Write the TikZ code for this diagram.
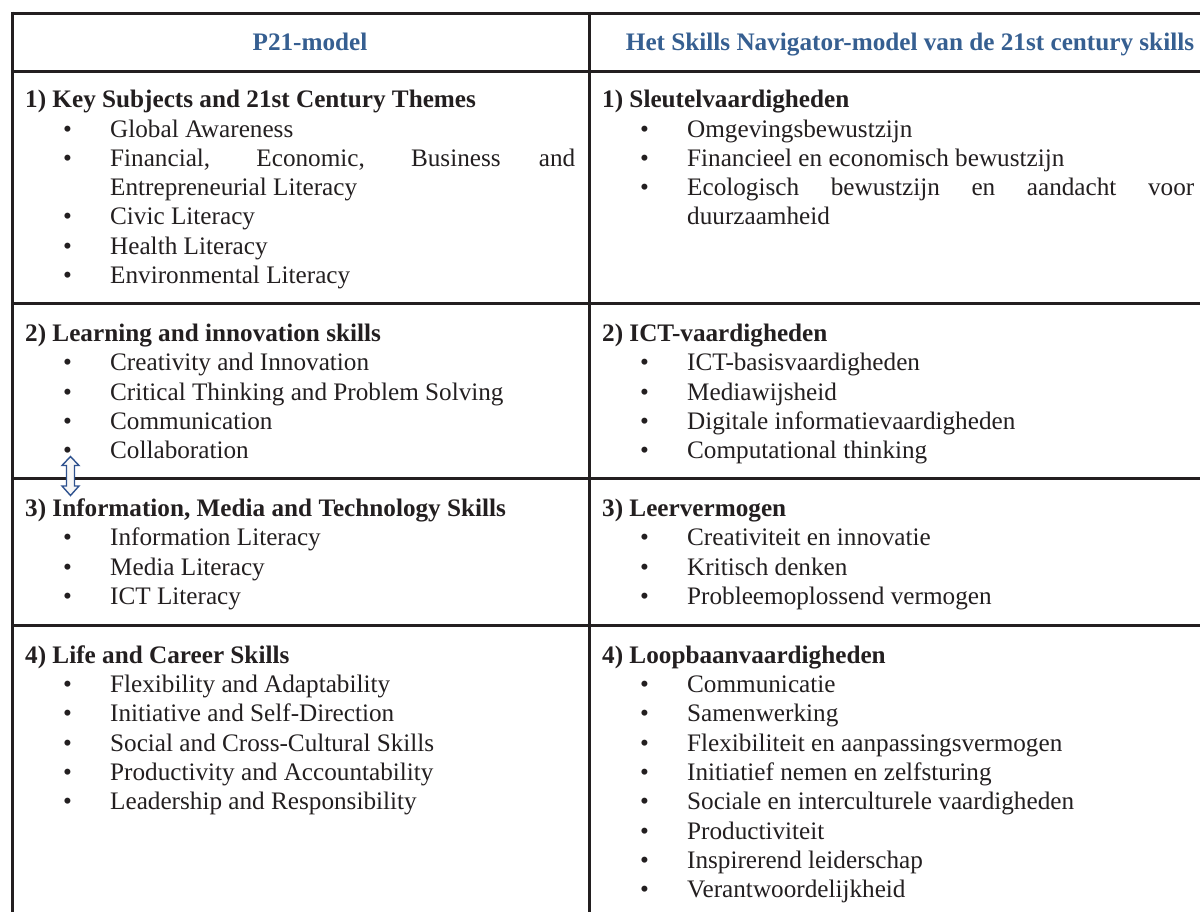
\documentclass[tikz,border=0pt]{standalone}
\usepackage{fontspec}
\setmainfont{Liberation Serif}
\usepackage{xcolor}
\usepackage{tikz}
\usetikzlibrary{positioning}
\definecolor{headblue}{RGB}{54,95,145}
\definecolor{rulecolor}{RGB}{35,31,32}
\definecolor{arrowblue}{RGB}{47,82,143}
\newcommand{\bul}[1]{\hspace*{38pt}\makebox[47pt][l]{\textbullet}#1}
\newcommand{\cont}[1]{\hspace*{85pt}#1}

\begin{document}
\begin{tikzpicture}[x=1pt, y=-1pt]
	\tikzstyle{rule}=[draw=rulecolor, line width=3pt]
	\tikzstyle{cell}=[anchor=base west, inner sep=0pt, text=rulecolor, font=\fontsize{25.2}{29.3}\selectfont]
	\tikzstyle{headtxt}=[anchor=base, inner sep=0pt, text=headblue, font=\fontsize{25.2}{29.3}\selectfont\bfseries]
	\useasboundingbox (0,0) rectangle (1200,911);
	
	% table rules
	\draw[rule] (12,13) -- (1201,13);
	\draw[rule] (12,71) -- (1201,71);
	\draw[rule] (12,303) -- (1201,303);
	\draw[rule] (12,478) -- (1201,478);
	\draw[rule] (12,625) -- (1201,625);
	\draw[rule] (12,11.5) -- (12,912);
	\draw[rule] (589,11.5) -- (589,912);
	
	% header
	\node (hleft) at (310,50.5) [headtxt]{P21-model};
	\node (hright) at (910,50.5) [headtxt]{Het Skills Navigator-model van de 21st century skills};
	
	% left column
	\node (l1) at (25,107.7) [cell]{\parbox[t]{560pt}{%
		\textbf{1) Key Subjects and 21st Century Themes}\\
		\bul{Global Awareness}\\
		\bul{\makebox[465pt][s]{Financial, Economic, Business and}}\\
		\cont{Entrepreneurial Literacy}\\
		\bul{Civic Literacy}\\
		\bul{Health Literacy}\\
		\bul{Environmental Literacy}}};
	\node (l2) at (25,341.5) [cell]{\parbox[t]{560pt}{%
		\textbf{2) Learning and innovation skills}\\
		\bul{Creativity and Innovation}\\
		\bul{Critical Thinking and Problem Solving}\\
		\bul{Communication}\\
		\bul{Collaboration}}};
	\node (l3) at (25,516.5) [cell]{\parbox[t]{560pt}{%
		\textbf{3) Information, Media and Technology Skills}\\
		\bul{Information Literacy}\\
		\bul{Media Literacy}\\
		\bul{ICT Literacy}}};
	\node (l4) at (25,663.3) [cell]{\parbox[t]{560pt}{%
		\textbf{4) Life and Career Skills}\\
		\bul{Flexibility and Adaptability}\\
		\bul{Initiative and Self-Direction}\\
		\bul{Social and Cross-Cultural Skills}\\
		\bul{Productivity and Accountability}\\
		\bul{Leadership and Responsibility}}};
	
	% right column
	\node (r1) at (602,107.7) [cell]{\parbox[t]{600pt}{%
		\textbf{1) Sleutelvaardigheden}\\
		\bul{Omgevingsbewustzijn}\\
		\bul{Financieel en economisch bewustzijn}\\
		\bul{\makebox[507pt][s]{Ecologisch bewustzijn en aandacht voor}}\\
		\cont{duurzaamheid}}};
	\node (r2) at (602,341.5) [cell]{\parbox[t]{600pt}{%
		\textbf{2) ICT-vaardigheden}\\
		\bul{ICT-basisvaardigheden}\\
		\bul{Mediawijsheid}\\
		\bul{Digitale informatievaardigheden}\\
		\bul{Computational thinking}}};
	\node (r3) at (602,516.5) [cell]{\parbox[t]{600pt}{%
		\textbf{3) Leervermogen}\\
		\bul{Creativiteit en innovatie}\\
		\bul{Kritisch denken}\\
		\bul{Probleemoplossend vermogen}}};
	\node (r4) at (602,663.3) [cell]{\parbox[t]{600pt}{%
		\textbf{4) Loopbaanvaardigheden}\\
		\bul{Communicatie}\\
		\bul{Samenwerking}\\
		\bul{Flexibiliteit en aanpassingsvermogen}\\
		\bul{Initiatief nemen en zelfsturing}\\
		\bul{Sociale en interculturele vaardigheden}\\
		\bul{Productiviteit}\\
		\bul{Inspirerend leiderschap}\\
		\bul{Verantwoordelijkheid}}};
	
	% up-down arrow between rows 2 and 3
	\draw[arrowblue, line width=1.4pt, fill=gray!6, line join=miter]
		(70.5,456.5) -- (79,465.5) -- (74.5,465.5) -- (74.5,486) -- (79,486)
		-- (70.5,495.5) -- (62,486) -- (66.5,486) -- (66.5,465.5) -- (62,465.5) -- cycle;
	
\end{tikzpicture}
\end{document}
